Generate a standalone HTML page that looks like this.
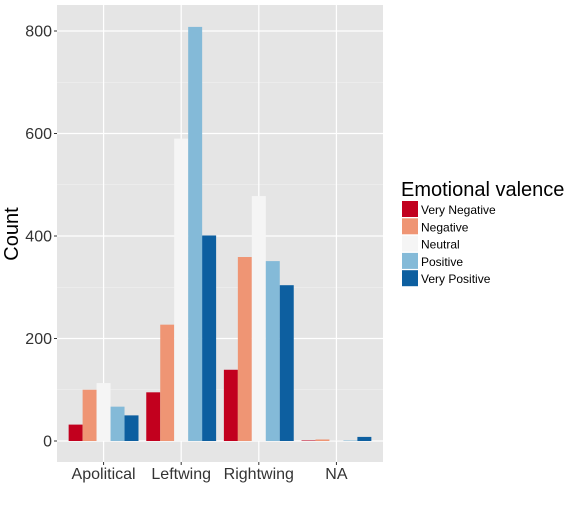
<!DOCTYPE html>
<html><head><meta charset="utf-8"><style>
body{margin:0;background:#fff;font-family:"Liberation Sans",sans-serif}
</style></head><body>
<svg id="c" width="576" height="504" xmlns="http://www.w3.org/2000/svg"></svg>
<script>
const categories=["Apolitical","Leftwing","Rightwing","NA"];
const seriesNames=["Very Negative","Negative","Neutral","Positive","Very Positive"];
const veryNegative=[32,95,139,1];
const negative=[100,227,359,3];
const neutral=[113,590,478,1];
const positive=[67,808,351,1];
const veryPositive=[50,401,304,8];
const yTicks=[0,200,400,600,800];
const colors=["#C2001E","#EF9574","#F5F5F5","#84BAD8","#0D5FA0"];
const series=[veryNegative,negative,neutral,positive,veryPositive];
const NS="http://www.w3.org/2000/svg";
const svg=document.getElementById('c');
const L=57,R=383,T=5,B=462;
const y=v=>441-v*(410/800);
const step=(R-L)/(categories.length+0.2);
const x=i=>L+step*(i+0.6);
function mk(t,a,p){const e=document.createElementNS(NS,t);for(const k in a)e.setAttribute(k,a[k]);(p||svg).appendChild(e);return e;}
const panel=mk('rect',{x:L,y:T,width:R-L,height:B-T,fill:'#E5E5E5'});


for(let v=-100;v<=900;v+=200){if(y(v)>T&&y(v)<B){const g=mk('line',{x1:L,x2:R,y1:y(v),y2:y(v),stroke:'#F2F2F2','stroke-width':0.6});}}
yTicks.forEach(v=>{
const g=mk('line',{x1:L,x2:R,y1:y(v),y2:y(v),stroke:'#fff','stroke-width':1.2});

const tk=mk('line',{x1:54,x2:L,y1:y(v),y2:y(v),stroke:'#333','stroke-width':1});

const t=mk('text',{x:52,y:y(v)+5.5,'text-anchor':'end','font-size':16,fill:'#333'});t.textContent=v;

});
categories.forEach((c,i)=>{
const g=mk('line',{x1:x(i),x2:x(i),y1:T,y2:B,stroke:'#fff','stroke-width':1.2});

const tk=mk('line',{x1:x(i),x2:x(i),y1:B,y2:B+3,stroke:'#333'});

const t=mk('text',{x:x(i),y:479,'text-anchor':'middle','font-size':16,fill:'#333'});t.textContent=c;

});
const bw=step*0.9/5;
series.forEach((s,j)=>s.forEach((v,i)=>{
const bx=x(i)-step*0.45+j*bw;
const b=mk('rect',{x:bx,y:y(v),width:bw,height:y(0)-y(v),fill:colors[j]});


}));
const yt=mk('text',{x:0,y:0,transform:'translate(18,234) rotate(-90)','text-anchor':'middle','font-size':20,fill:'#000'});yt.textContent='Count';

const lt=mk('text',{x:401,y:196,'font-size':20,fill:'#000'});lt.textContent='Emotional valence';

seriesNames.forEach((n,j)=>{
const ky=201+j*17.3;
const r=mk('rect',{x:402,y:ky,width:16,height:16,fill:colors[j]});

const t=mk('text',{x:421,y:ky+13,'font-size':12,fill:'#000'});t.textContent=n;

});
</script>
</body></html>
